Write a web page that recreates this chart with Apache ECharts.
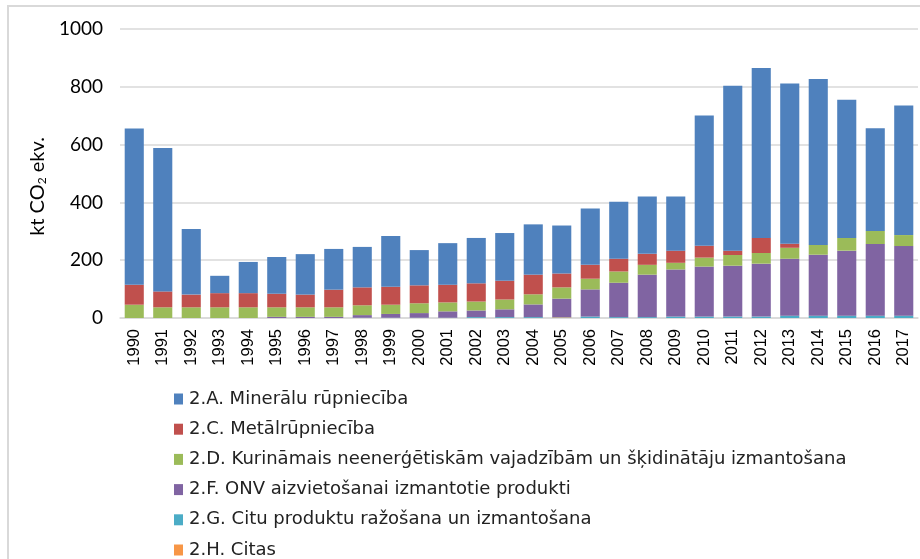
<!DOCTYPE html>
<html>
<head>
<meta charset="utf-8">
<script src="https://cdn.jsdelivr.net/npm/echarts@6/dist/echarts.min.js"></script>
<style>
  html, body { margin: 0; padding: 0; background: #fff; }
  #chart { width: 920px; height: 559px; }
</style>
</head>
<body>
<div id="chart"></div>
<script>
let years = ["1990", "1991", "1992", "1993", "1994", "1995", "1996", "1997", "1998", "1999",
  "2000", "2001", "2002", "2003", "2004", "2005", "2006", "2007", "2008", "2009",
  "2010", "2011", "2012", "2013", "2014", "2015", "2016", "2017"];

let names = [
  "2.A. Minerālu rūpniecība",
  "2.C. Metālrūpniecība",
  "2.D. Kurināmais neenerģētiskām vajadzībām un šķidinātāju izmantošana",
  "2.F. ONV aizvietošanai izmantotie produkti",
  "2.G. Citu produktu ražošana un izmantošana",
  "2.H. Citas"
];
let colors = ["#4f81bd", "#c0504d", "#9bbb59", "#8064a2", "#4bacc6", "#f79646"];

let mineral = [541, 496, 227, 60, 108, 127, 140, 141, 140, 176,
  122, 144, 157, 165, 174, 166, 195, 197, 198, 187,
  451, 571, 588, 554, 574, 478, 356, 448];
let metal = [69, 55, 44, 49, 49, 47, 44, 61, 62, 62,
  62, 61, 63, 65, 68, 48, 48, 44, 38, 42,
  41, 15, 52, 14, 0, 0, 0, 0];
let fuel = [46, 37, 37, 37, 37, 33, 33, 33, 34, 32,
  34, 31, 31, 34, 35, 39, 37, 39, 34, 23,
  31, 37, 37, 38, 34, 44, 45, 38];
let onv = [0, 0, 0, 0, 0, 4, 4, 4, 9, 13,
  16, 22, 23, 27, 44, 64, 94, 119, 147, 163,
  173, 176, 183, 197, 211, 225, 248, 241];
let other = [0, 0, 0, 0, 0, 0, 0, 0, 1, 1,
  1, 1, 3, 3, 3, 1, 5, 3, 3, 5,
  5, 5, 5, 8, 8, 8, 8, 8];
let citas = [0, 0, 0, 0, 0, 0, 0, 0, 0, 0,
  0, 0, 0, 0, 0, 2, 0, 0, 0, 0,
  0, 0, 0, 0, 0, 0, 0, 0];

// bottom of the stack first
let stackOrder = [citas, other, onv, fuel, metal, mineral];
let stackIdx = [5, 4, 3, 2, 1, 0];

let chart = echarts.init(document.getElementById("chart"));

let series = stackIdx.map((k, i) => ({
  name: names[k],
  type: "bar",
  stack: "total",
  barCategoryGap: "33%",
  data: stackOrder[i],
  itemStyle: {color: colors[k]}
}));

chart.setOption({
  animation: false,
  graphic: [{
    type: "rect",
    shape: {x: 8, y: 6, width: 940, height: 600},
    style: {fill: null, stroke: "#d9d9d9", lineWidth: 2},
    silent: true
  }],
  grid: {left: 120, right: 2, top: 29, bottom: 241},
  legend: {
    orient: "vertical",
    left: 169,
    top: 384,
    height: 220,
    itemWidth: 9,
    itemHeight: 11,
    itemGap: 10.2,
    icon: "rect",
    data: names,
    textStyle: {fontFamily: "DejaVu Sans", fontSize: 18, color: "#222", lineHeight: 20, padding: [0, 0, 0, 1]}
  },
  xAxis: {
    type: "category",
    data: years,
    axisLine: {lineStyle: {color: "#d9d9d9", width: 1.5}},
    axisTick: {show: false},
    axisLabel: {rotate: 90, margin: 11, fontFamily: "Liberation Sans", fontSize: 16.5, color: "#000"}
  },
  yAxis: {
    type: "value",
    min: 0,
    max: 1000,
    interval: 200,
    name: "kt CO{sub|2} ekv.",
    nameLocation: "middle",
    nameGap: 64,
    nameTextStyle: {
      fontFamily: "Lato", fontSize: 20, color: "#000",
      padding: [0, 26, 0, 0],
      rich: {sub: {fontFamily: "Lato", fontSize: 12, color: "#000", padding: [9, 0, 0, 0]}}
    },
    axisLine: {show: false},
    axisTick: {show: false},
    splitLine: {lineStyle: {color: "#d9d9d9", width: 1.5}},
    axisLabel: {margin: 17, fontFamily: "Lato", fontSize: 19, color: "#000", formatter: v => String(v)}
  },
  series: series
});
</script>
</body>
</html>
